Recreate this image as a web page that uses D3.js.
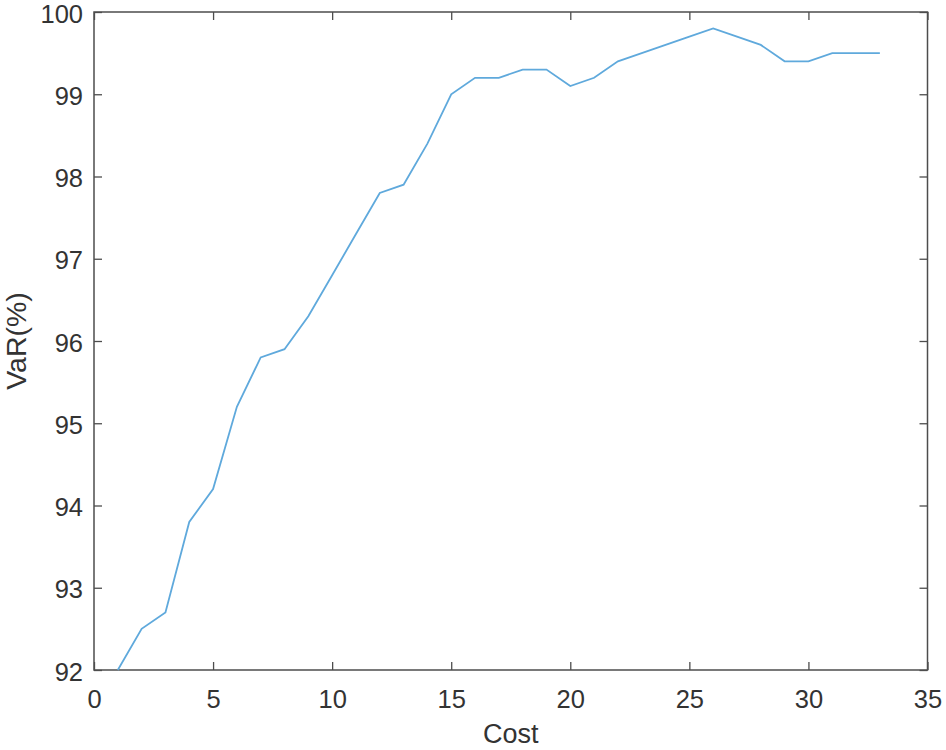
<!DOCTYPE html>
<html><head><meta charset="utf-8">
<script src="https://cdn.jsdelivr.net/npm/d3@7"></script>
<style>body{margin:0;background:#fff}svg{display:block}</style>
</head><body>
<svg id="c" width="946" height="750"></svg>
<script>
const costs = [1,2,3,4,5,6,7,8,9,10,11,12,13,14,15,16,17,18,19,20,21,22,23,24,25,26,27,28,29,30,31,32,33];
const varValues = [92.0,92.5,92.7,93.8,94.2,95.2,95.8,95.9,96.3,96.8,97.3,97.8,97.9,98.4,99.0,99.2,99.2,99.3,99.3,99.1,99.2,99.4,99.5,99.6,99.7,99.8,99.7,99.6,99.4,99.4,99.5,99.5,99.5];
const xTicks = [0,5,10,15,20,25,30,35];
const yTicks = [92,93,94,95,96,97,98,99,100];
const xLabel = "Cost";
const yLabel = "VaR(%)";

const L = 94, R = 927.5, T = 12, B = 670;
const svg = d3.select("#c");
const x = d3.scaleLinear().domain([0,35]).range([L,R]);
const y = d3.scaleLinear().domain([92,100]).range([B,T]);
const axisColor = "#4d4d4d", textColor = "#333";
const font = "'Liberation Sans', Arial, sans-serif";

function style(g){
  g.select(".domain").remove();
  g.selectAll(".tick line").attr("stroke", axisColor).attr("stroke-width",1.3);
  g.selectAll(".tick text").attr("fill", textColor).style("font-family", font).style("font-size","25.5px");
}
// bottom
svg.append("g").attr("transform",`translate(0,${B})`)
  .call(d3.axisBottom(x).tickValues(xTicks).tickSize(-8).tickPadding(20).tickFormat(d3.format("d")))
  .call(style);
// top ticks
svg.append("g").attr("transform",`translate(0,${T})`)
  .call(d3.axisTop(x).tickValues(xTicks).tickSize(-8).tickFormat(""))
  .call(style);
// left
svg.append("g").attr("transform",`translate(${L},0)`)
  .call(d3.axisLeft(y).tickValues(yTicks).tickSize(-8).tickPadding(11).tickFormat(d3.format("d")))
  .call(style)
  .call(g => g.selectAll(".tick text").attr("y", 2));
// right ticks
svg.append("g").attr("transform",`translate(${R},0)`)
  .call(d3.axisRight(y).tickValues(yTicks).tickSize(-8).tickFormat(""))
  .call(style);

svg.append("rect").attr("x",L).attr("y",T).attr("width",R-L).attr("height",B-T)
  .attr("fill","none").attr("stroke",axisColor).attr("stroke-width",1.5);

const data = costs.map((c,i)=>({c, v:varValues[i]}));
svg.append("path").datum(data)
  .attr("fill","none").attr("stroke","#5fa9dc").attr("stroke-width",1.8)
  .attr("d", d3.line().x(d=>x(d.c)).y(d=>y(d.v)));

svg.append("text").attr("x",(L+R)/2).attr("y",743).attr("text-anchor","middle")
  .attr("fill",textColor).style("font-family",font).style("font-size","27px").text(xLabel);
svg.append("text").attr("transform",`translate(26,${(T+B)/2}) rotate(-90)`).attr("text-anchor","middle")
  .attr("fill",textColor).style("font-family",font).style("font-size","28.5px").text(yLabel);
</script>
</body></html>
